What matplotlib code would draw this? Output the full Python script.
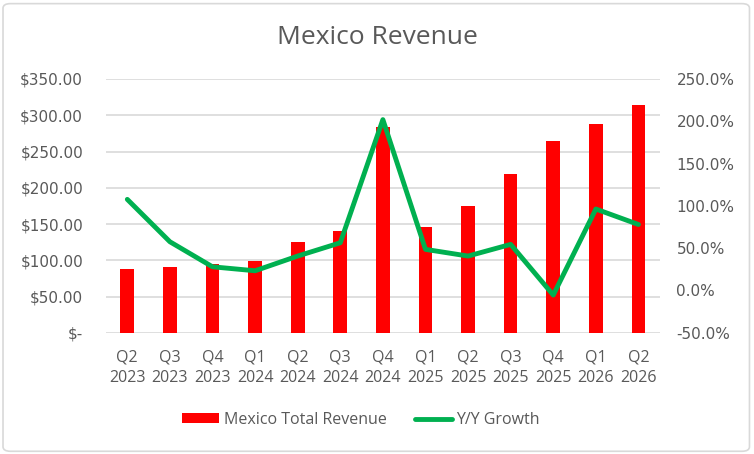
import matplotlib
matplotlib.use('Agg')
import matplotlib.pyplot as plt
from matplotlib.ticker import FuncFormatter
from matplotlib.patches import FancyBboxPatch

quarters = ['Q2\n2023', 'Q3\n2023', 'Q4\n2023', 'Q1\n2024', 'Q2\n2024', 'Q3\n2024', 'Q4\n2024',
            'Q1\n2025', 'Q2\n2025', 'Q3\n2025', 'Q4\n2025', 'Q1\n2026', 'Q2\n2026']
revenue = [88, 91, 95, 99, 125, 140, 284, 146, 175, 219, 265, 288, 314]
growth = [107.7, 57.6, 28.0, 23.3, 40.7, 56.4, 202.0, 48.6, 40.7, 54.5, -5.4, 96.3, 78.0]

plt.rcParams['font.family'] = ['Open Sans', 'DejaVu Sans']
grey = '#595959'

fig = plt.figure(figsize=(7.54, 4.54), dpi=100)
ax = fig.add_axes([0.1406, 0.267, 0.875 - 0.1406, 0.826 - 0.267])
ax2 = ax.twinx()

x = range(len(quarters))
bars = ax.bar(x, revenue, width=0.32, color='#ff0000', zorder=2, label='Mexico Total Revenue')
line, = ax2.plot(x, growth, color='#00b050', linewidth=3.5, solid_capstyle='round',
                 solid_joinstyle='round', zorder=3, label='Y/Y Growth')

ax.set_ylim(0, 350)
ax.set_yticks(range(0, 351, 50))
ax.yaxis.set_major_formatter(FuncFormatter(lambda v, p: '$-' if v == 0 else '${:,.2f}'.format(v)))
ax2.set_ylim(-50, 250)
ax2.set_yticks(range(-50, 251, 50))
ax2.yaxis.set_major_formatter(FuncFormatter(lambda v, p: '{:.1f}%'.format(v)))

ax.set_xlim(-0.5, len(quarters) - 0.5)
ax.set_xticks(list(x))
ax.set_xticklabels(quarters, linespacing=1.35, fontsize=11.5)
ax.grid(axis='y', color='#d9d9d9', linewidth=1.2, zorder=0)
ax.set_axisbelow(True)

for a in (ax, ax2):
    for s in a.spines.values():
        s.set_visible(False)
    a.tick_params(length=0, colors=grey)
for lbl in ax.get_yticklabels() + ax2.get_yticklabels():
    lbl.set_fontfamily('DejaVu Sans')
    lbl.set_fontsize(11)
ax.tick_params(axis='y', pad=16.5)
ax.tick_params(axis='x', pad=12)
ax2.tick_params(axis='y', pad=12)
ax.patch.set_visible(False)
ax2.patch.set_visible(False)

fig.text(0.5, 0.918, 'Mexico Revenue', ha='center', va='center', fontsize=19, color=grey)

fig.legend([bars, line], ['Mexico Total Revenue', 'Y/Y Growth'], loc='center',
           bbox_to_anchor=(0.479, 0.075), ncol=2, frameon=False, fontsize=11.5,
           labelcolor=grey, handlelength=2.3, handleheight=0.6, columnspacing=1.75,
           handletextpad=0.3)

border = FancyBboxPatch((0.004, 0.006), 0.99, 0.986, boxstyle='round,pad=0,rounding_size=0.01',
                        transform=fig.transFigure, fill=False, edgecolor='#d9d9d9', linewidth=1.2)
fig.patches.append(border)

fig.savefig('out.png', dpi=100)
